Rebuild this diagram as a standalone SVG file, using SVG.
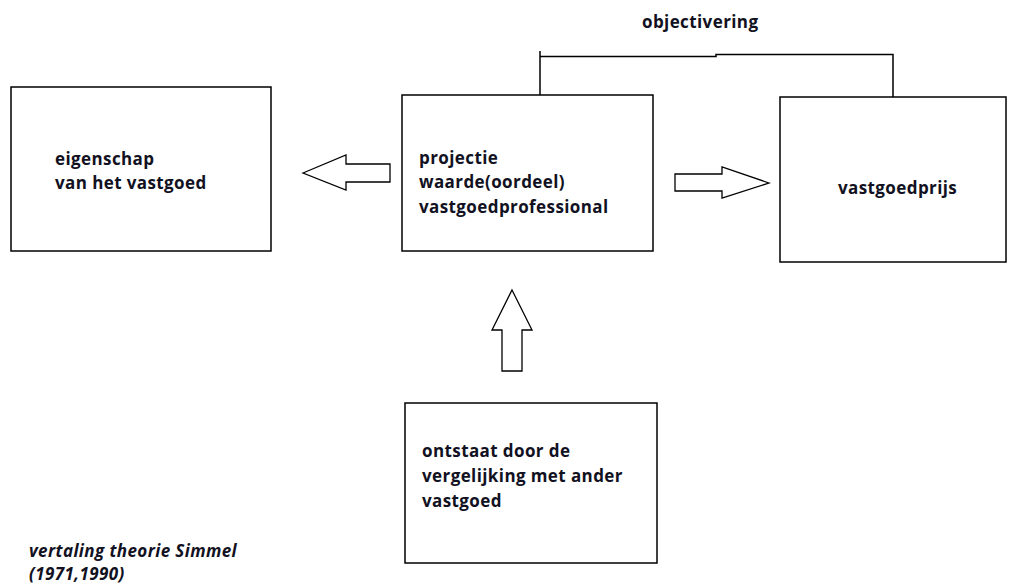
<svg xmlns="http://www.w3.org/2000/svg" width="1019" height="585" viewBox="0 0 1019 585">
<style>
.box{fill:#fff;stroke:#000;stroke-width:1.5}
.arr{fill:#fff;stroke:#000;stroke-width:1.3}
.ln{fill:none;stroke:#000;stroke-width:1.5}
text{font-family:"Open Sans","Liberation Sans",Arial,sans-serif;font-weight:bold;font-size:17px;letter-spacing:0.4px;fill:#111122}
.it{font-style:italic}
</style>
<rect width="1019" height="585" fill="#fff"/>
<g id="connectors">
<polyline class="ln" points="540,95 540,51"/>
<polyline class="ln" points="540,56.5 716,56.5 716,54.5 893,54.5 893,97"/>
<polygon id="arrow-left" class="arr" points="303,173 346,155 346,164 390,164 390,182 346,182 346,190"/>
<polygon id="arrow-right" class="arr" points="769,183 722,167 722,174 675,174 675,191 722,191 722,198"/>
<polygon id="arrow-up" class="arr" points="512,290 532,330 522,330 522,371 502,371 502,330 492,330"/>
</g>
<g id="label-objectivering"><text x="642" y="28">objectivering</text></g>
<g id="node-eigenschap">
<rect class="box" x="11" y="87" width="260" height="164"/>
<text x="55" y="165">eigenschap</text>
<text x="55" y="189">van het vastgoed</text>
</g>
<g id="node-projectie">
<rect class="box" x="402" y="95" width="251" height="156"/>
<text x="419" y="164">projectie</text>
<text x="419" y="188">waarde(oordeel)</text>
<text x="419" y="213">vastgoedprofessional</text>
</g>
<g id="node-vastgoedprijs">
<rect class="box" x="780" y="97" width="226" height="165"/>
<text x="838" y="194" letter-spacing="-0.4">vastgoedprijs</text>
</g>
<g id="node-vergelijking">
<rect class="box" x="405" y="403" width="252" height="160"/>
<text x="422" y="457">ontstaat door de</text>
<text x="422" y="482">vergelijking met ander</text>
<text x="422" y="507">vastgoed</text>
</g>
<g id="note">
<text class="it" x="29" y="557">vertaling theorie Simmel</text>
<text class="it" x="29" y="580">(1971,1990)</text>
</g>
</svg>
